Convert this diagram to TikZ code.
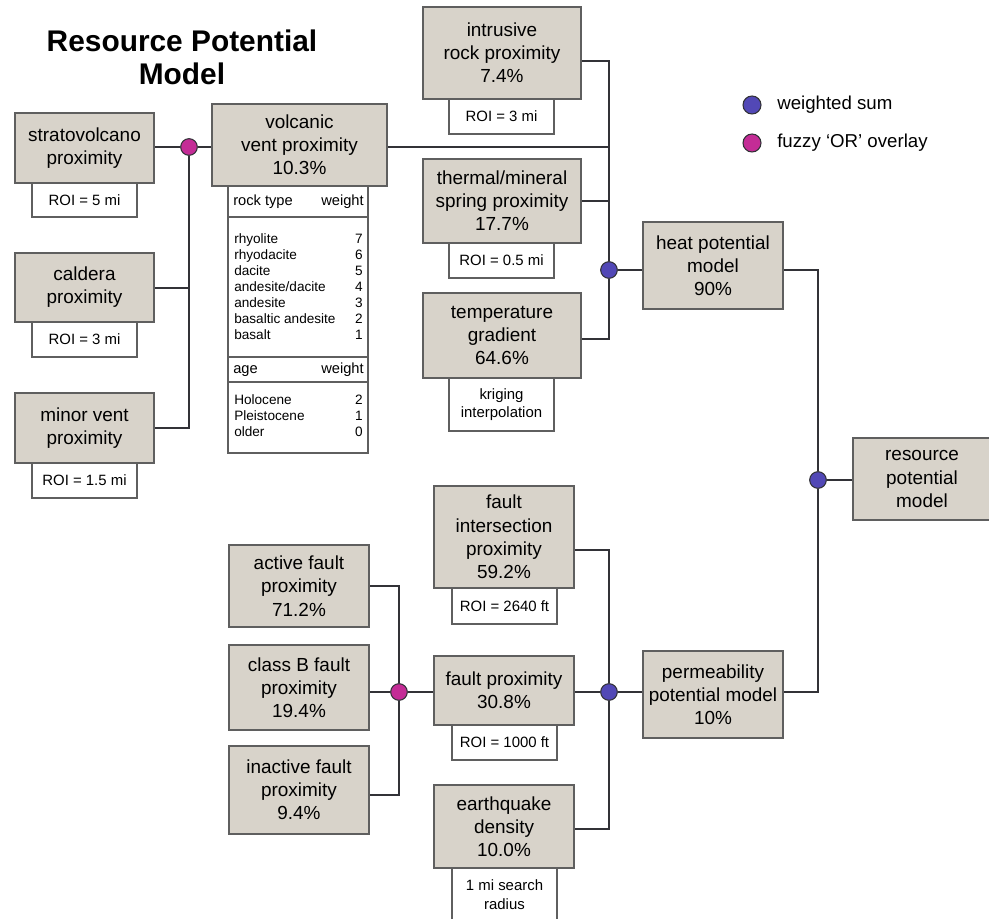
\documentclass[tikz,border=0pt]{standalone}
\usepackage{fontspec}
\setmainfont{Liberation Sans}
\usetikzlibrary{calc}
\definecolor{boxfill}{RGB}{216,211,202}
\definecolor{boxline}{RGB}{95,95,95}
\definecolor{wirecol}{RGB}{50,50,55}
\definecolor{sumblue}{RGB}{82,72,182}
\definecolor{orpink}{RGB}{196,44,150}
\pgfdeclarelayer{bg}
\pgfsetlayers{bg,main}
\tikzset{
  mainbox/.style={draw=boxline, fill=boxfill, line width=0.9pt, inner sep=0pt, align=center, font=\fontsize{14.2}{17.4}\selectfont},
  roibox/.style={draw=boxline, fill=white, line width=0.9pt, inner sep=0pt, align=center, font=\fontsize{11.2}{13.5}\selectfont},
  wire/.style={draw=wirecol, line width=1.3pt},
  dotbase/.style={circle, draw=wirecol, line width=0.8pt, minimum size=12.5pt, inner sep=0pt},
  sumdot/.style={dotbase, fill=sumblue},
  ordot/.style={dotbase, fill=orpink},
  tabrow/.style={inner sep=0pt, font=\fontsize{10.2}{12}\selectfont, text height=7.6pt, text depth=2.2pt},
  tabhead/.style={inner sep=0pt, font=\fontsize{11}{13}\selectfont, text height=8.2pt, text depth=2.4pt},
  legtext/.style={inner sep=0pt, anchor=west, font=\fontsize{14}{17}\selectfont},
  tabrule/.style={draw=boxline, line width=0.9pt}
}
\newcommand\bx[7]{\node[#1, minimum width={(#4-#2)*0.75pt}, minimum height={(#5-#3)*0.75pt}] (#6) at ({(#2+#4)/2},{(#3+#5)/2}) {#7};}
\begin{document}
\begin{tikzpicture}[x=0.75pt, y=-0.75pt]
\useasboundingbox (0,0) rectangle (989,919);
\clip (0,0) rectangle (989,919);

% title
\node[inner sep=0pt, align=center, font=\fontsize{22.4}{24.5}\selectfont\bfseries] (title) at (182,57) {Resource Potential\\Model};

% legend
\node[sumdot, minimum size=13.5pt] (lgsum) at (752,105) {};
\node[legtext] (lgsumt) at (777,105) {weighted sum};
\node[ordot, minimum size=13.5pt] (lgor) at (752,143) {};
\node[legtext] (lgort) at (777,143) {fuzzy ‘OR’ overlay};

% volcanic group
\bx{mainbox}{15}{113}{154}{183}{strato}{stratovolcano\\proximity}
\bx{roibox}{32}{183}{137}{217}{stratoroi}{ROI = 5 mi}
\bx{mainbox}{15}{253}{154}{322}{cald}{caldera\\proximity}
\bx{roibox}{32}{322}{137}{357}{caldroi}{ROI = 3 mi}
\bx{mainbox}{15}{393}{154}{463}{minor}{minor vent\\proximity}
\bx{roibox}{32}{463}{137}{498}{minorroi}{ROI = 1.5 mi}
\bx{mainbox}{212}{104}{387}{186}{volc}{volcanic\\vent proximity\\10.3\%}

% table
\bx{roibox}{228}{186}{368}{453}{tab}{}
\draw[tabrule] (228,217) -- (368,217);
\draw[tabrule] (228,357) -- (368,357);
\draw[tabrule] (228,382) -- (368,382);
\node[tabhead, anchor=west] (h1a) at (233,202) {rock type};
\node[tabhead, anchor=east] (h1b) at (364,202) {weight};
\node[tabrow, anchor=west] (r1) at (234,240) {rhyolite};
\node[tabrow, anchor=west] (r2) at (234,256) {rhyodacite};
\node[tabrow, anchor=west] (r3) at (234,272) {dacite};
\node[tabrow, anchor=west] (r4) at (234,288) {andesite/dacite};
\node[tabrow, anchor=west] (r5) at (234,304) {andesite};
\node[tabrow, anchor=west] (r6) at (234,320) {basaltic andesite};
\node[tabrow, anchor=west] (r7) at (234,336) {basalt};
\node[tabrow, anchor=east] (w1) at (363,240) {7};
\node[tabrow, anchor=east] (w2) at (363,256) {6};
\node[tabrow, anchor=east] (w3) at (363,272) {5};
\node[tabrow, anchor=east] (w4) at (363,288) {4};
\node[tabrow, anchor=east] (w5) at (363,304) {3};
\node[tabrow, anchor=east] (w6) at (363,320) {2};
\node[tabrow, anchor=east] (w7) at (363,336) {1};
\node[tabhead, anchor=west] (h2a) at (233,370) {age};
\node[tabhead, anchor=east] (h2b) at (364,370) {weight};
\node[tabrow, anchor=west] (a1) at (234,401) {Holocene};
\node[tabrow, anchor=west] (a2) at (234,417) {Pleistocene};
\node[tabrow, anchor=west] (a3) at (234,433) {older};
\node[tabrow, anchor=east] (aw1) at (363,401) {2};
\node[tabrow, anchor=east] (aw2) at (363,417) {1};
\node[tabrow, anchor=east] (aw3) at (363,433) {0};

% heat group
\bx{mainbox}{423}{7}{581}{99}{intr}{intrusive\\rock proximity\\7.4\%}
\bx{roibox}{449}{99}{554}{134}{intrroi}{ROI = 3 mi}
\bx{mainbox}{423}{159}{581}{243}{therm}{thermal/mineral\\spring proximity\\17.7\%}
\bx{roibox}{449}{243}{554}{278}{thermroi}{ROI = 0.5 mi}
\bx{mainbox}{423}{293}{581}{378}{temp}{temperature\\gradient\\64.6\%}
\bx{roibox}{449}{378}{554}{431}{temproi}{kriging\\interpolation}
\bx{mainbox}{643}{222}{783}{309}{heat}{heat potential\\model\\90\%}
\bx{mainbox}{853}{438}{991}{520}{res}{resource\\potential\\model}

% fault group
\bx{mainbox}{229}{545}{369}{627}{act}{active fault\\proximity\\71.2\%}
\bx{mainbox}{229}{645}{369}{730}{classb}{class B fault\\proximity\\19.4\%}
\bx{mainbox}{229}{746}{369}{834}{inact}{inactive fault\\proximity\\9.4\%}
\bx{mainbox}{434}{486}{574}{588}{fint}{fault\\intersection\\proximity\\59.2\%}
\bx{roibox}{452}{588}{557}{624}{fintroi}{ROI = 2640 ft}
\bx{mainbox}{434}{656}{574}{725}{fprox}{fault proximity\\30.8\%}
\bx{roibox}{452}{725}{557}{760}{fproxroi}{ROI = 1000 ft}
\bx{mainbox}{434}{785}{574}{868}{quake}{earthquake\\density\\10.0\%}
\bx{roibox}{452}{868}{557}{935}{quakeroi}{}
\node[inner sep=0pt, align=center, font=\fontsize{11.2}{14}\selectfont] (quaketxt) at (504.5,894.5) {1 mi search\\radius};
\bx{mainbox}{643}{651}{783}{738}{perm}{permeability\\potential model\\10\%}

% operators
\node[ordot] (p1) at (189,147) {};
\node[sumdot] (b1) at (609,270) {};
\node[sumdot] (b3) at (818,480) {};
\node[ordot] (p2) at (399,692) {};
\node[sumdot] (b2) at (609,692) {};

% connectors
\begin{pgfonlayer}{bg}
\draw[wire] (p1 -| strato.east) -- (p1);
\draw[wire] (p1) -- (p1 -| volc.west);
\draw[wire] ([yshift=-0.5pt]cald.east) -| (p1);
\draw[wire] (minor.east) -| (p1);
\draw[wire] ([yshift=-6pt]intr.east) -| (b1);
\draw[wire] (p1 -| volc.east) -| (b1);
\draw[wire] (therm.east) -| (b1);
\draw[wire] ([yshift=-2.5pt]temp.east) -| (b1);
\draw[wire] (b1) -- (b1 -| heat.west);
\draw[wire] (b1 -| heat.east) -| (b3);
\draw[wire] (b3) -- (b3 -| res.west);
\draw[wire] (b2 -| perm.east) -| (b3);
\draw[wire] (b2) -- (b2 -| perm.west);
\draw[wire] ([yshift=-9.75pt]fint.east) -| (b2);
\draw[wire] (b2 -| fprox.east) -- (b2);
\draw[wire] ([yshift=-2pt]quake.east) -| (b2);
\draw[wire] (p2) -- (p2 -| fprox.west);
\draw[wire] (act.east) -| (p2);
\draw[wire] (p2 -| classb.east) -- (p2);
\draw[wire] ([yshift=-3.5pt]inact.east) -| (p2);
\end{pgfonlayer}
\end{tikzpicture}
\end{document}
